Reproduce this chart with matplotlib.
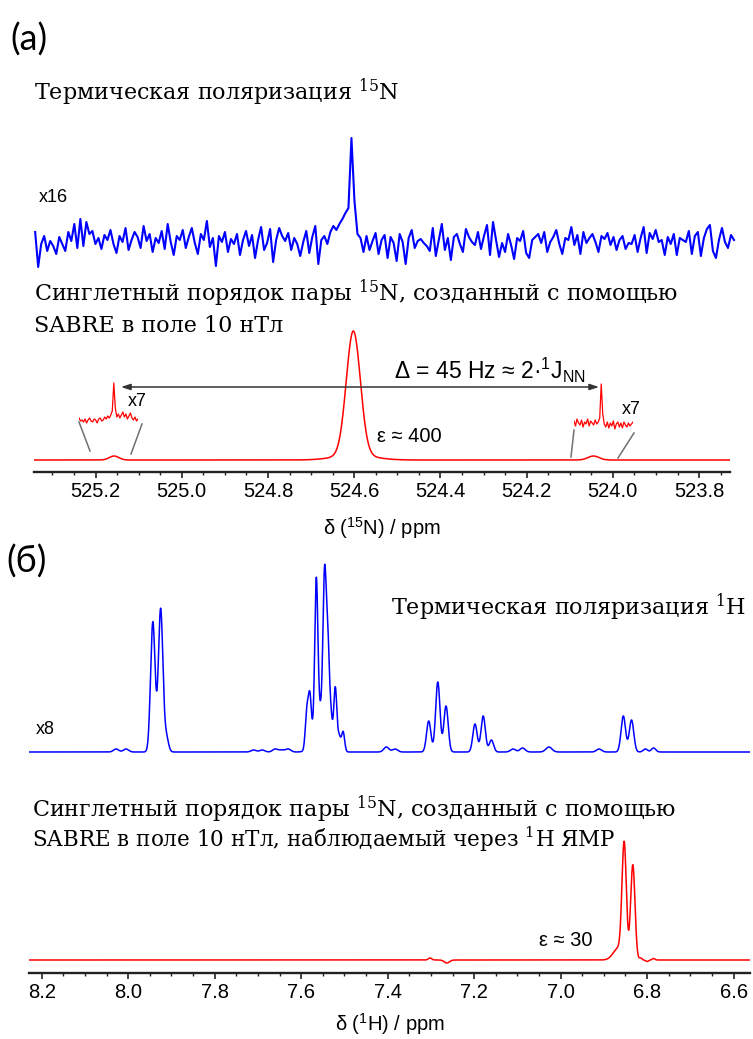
import numpy as np
import matplotlib
matplotlib.use('Agg')
import matplotlib.pyplot as plt
from matplotlib.lines import Line2D
from matplotlib.ticker import MultipleLocator, FormatStrFormatter

plt.rcParams['font.family'] = ['Liberation Sans', 'DejaVu Sans']
plt.rcParams['mathtext.fontset'] = 'custom'
plt.rcParams['mathtext.rm'] = 'DejaVu Serif'
plt.rcParams['mathtext.sf'] = 'Liberation Sans'
plt.rcParams['mathtext.it'] = 'Liberation Sans:italic'

W, H = 753, 1039
SERIF = ['DejaVu Serif']

# --- 15N thermal spectrum (x16), sampled trace, intensity above baseline
n15_thermal = [
    14, -21, 2, 10, -5, 5, 0, -8, 9, 2,
    -5, 14, 5, 22, -2, 27, 0, 24, 12, 15,
    2, 8, -3, 11, 6, 16, 2, -7, 10, 4,
    18, -4, 6, 14, 9, -2, 20, 5, 12, -6,
    8, 3, 15, -3, 22, 4, -9, 10, 6, 16,
    -2, 9, 18, 3, -8, 12, 6, 25, -1, 8,
    -20, 10, 4, 14, -6, 7, 2, 12, -9, 6,
    15, 0, 11, -12, 6, 19, -4, 3, 17, -16,
    6, 18, 10, 5, 13, -4, 8, 2, -10, 4,
    15, -7, 9, 20, -18, 6, 10, 2, 14, 20,
    16, 22, 27, 33, 38, 108, 45, 12, 8, -6,
    10, -4, 5, 13, -8, 6, 11, -12, 9, 3,
    -15, 12, 4, -18, 8, 16, -2, 5, 7, 3,
    0, -5, 18, -10, 6, 22, -4, 8, -14, 9,
    12, 2, -6, 17, 9, 4, 1, 14, -3, 10,
    21, -9, 24, 6, -11, 3, -6, 12, 1, -13,
    8, 5, 15, -7, -12, 6, 9, 12, 3, 14,
    -6, 4, 9, 16, 2, -8, 8, 6, 19, 1,
    11, -8, 14, 3, 8, 12, 4, -6, 10, 7,
    13, 1, 9, -4, 6, 10, -3, 3, 2, 11,
    -6, 8, 19, -7, 13, 7, 16, 4, 6, -9,
    9, 2, 12, -9, 8, 6, 4, 15, -8, 10,
    14, -10, 8, 17, 21, -5, -12, 6, 18, 4,
    -2, 11, 6,
]
n15_thermal_range = (525.340, 523.719)

# --- 15N singlet-order spectrum: peak table (ppm, height, gaussian sigma)
n15_sabre_pos = [524.602, 524.600, 525.157, 524.045]
n15_sabre_height = [124, 5, 4, 4]
n15_sabre_sigma = [0.0163, 0.045, 0.011, 0.013]

# x7 zoomed insets around the two outer lines
inset_left_vals = [2, -1, 0, -2, 1, -3, 0, 2, -1, -2, 1, 0, -3, 1, 2, -1, 0, 3, 1, 4,
                   2, 5, 9, 37, 12, 3, 6, 2, 5, 8, 3, 6, 1, 4, 7, 2, 0, 3, -1, 1]
inset_left_range = (525.213, 525.118)
inset_right_vals = [3, -2, 5, 1, -1, 4, -3, 2, 0, 5, -2, 3, 1, -1, 4, 0, 2, 6, 40, 10,
                    0, -3, 2, -4, 1, -2, 3, -5, 0, 2, -3, 1, -4, 2, -1, -3, 1, -2, 0, 2]
inset_right_range = (524.097, 523.988)

# --- 1H thermal spectrum (x8): line positions, heights, gaussian sigma
h1_thermal_pos = [8.028, 8.005, 7.943, 7.925, 7.912,
                  7.71, 7.69, 7.66, 7.645, 7.63,
                  7.587, 7.580, 7.565, 7.553, 7.546, 7.539, 7.532, 7.521, 7.512, 7.503,
                  7.403, 7.383, 7.305, 7.284, 7.265, 7.198, 7.179, 7.160,
                  7.110, 7.088, 7.027, 6.911, 6.855, 6.836, 6.804, 6.785]
h1_thermal_height = [3, 3, 130, 143, 15,
                     2, 2, 3, 2, 3,
                     36, 47, 142, 45, 134, 86, 25, 60, 14, 20,
                     5, 3, 31, 70, 46, 28, 36, 12,
                     3, 4, 5, 3, 36, 32, 3, 4]
h1_thermal_sigma = [0.006, 0.006, 0.0052, 0.0052, 0.005,
                    0.006, 0.006, 0.006, 0.006, 0.006,
                    0.0035, 0.0035, 0.0035, 0.015, 0.0035, 0.0035, 0.0035, 0.0035, 0.0035,
                    0.0035,
                    0.006, 0.006, 0.005, 0.005, 0.005, 0.005, 0.005, 0.005,
                    0.006, 0.006, 0.007, 0.006, 0.0052, 0.0052, 0.005, 0.005]

# --- 1H spectrum observed via singlet order
h1_sabre_pos = [7.302, 7.263, 6.866, 6.853, 6.833, 6.815, 6.800, 6.785]
h1_sabre_height = [2, -3, 12, 112, 95, 2, -1.5, 1.5]
h1_sabre_sigma = [0.004, 0.006, 0.012, 0.005, 0.005, 0.003, 0.003, 0.003]


def gauss(x, pos, height, sigma):
    y = np.zeros_like(x)
    for p, h, s in zip(pos, height, sigma):
        y += h * np.exp(-0.5 * ((x - p) / s) ** 2)
    return y


def fx(px):
    return px / W


def fy(py):
    return 1 - py / H


def style_axis(ax):
    for side in ('left', 'right', 'top'):
        ax.spines[side].set_visible(False)
    ax.spines['bottom'].set_linewidth(1.7)
    ax.spines['bottom'].set_color('#222222')
    ax.set_yticks([])
    ax.xaxis.set_major_locator(MultipleLocator(0.2))
    ax.xaxis.set_minor_locator(MultipleLocator(0.05))
    ax.xaxis.set_major_formatter(FormatStrFormatter('%.1f'))
    ax.tick_params(axis='x', which='major', length=4, width=1.2,
                   color='#222222', labelsize=14.5, pad=3)
    ax.tick_params(axis='x', which='minor', length=2.5, width=1.0,
                   color='#222222')
    ax.patch.set_visible(False)


fig = plt.figure(figsize=(W / 100, H / 100), dpi=100)

# ---------------- panel (a): 15N ----------------
ax_a = fig.add_axes([fx(34.3), fy(472), fx(729.7 - 34.3), (472 - 110) / H])
ax_a.set_xlim(525.342, 523.729)
ax_a.set_ylim(0, 362)
style_axis(ax_a)

x_th = np.linspace(*n15_thermal_range, len(n15_thermal))
ax_a.plot(x_th, 226 + np.array(n15_thermal), color='#0000ff', lw=1.5,
          clip_on=False)

x_a = np.linspace(525.342, 523.729, 2500)
ax_a.plot(x_a, 12 + gauss(x_a, n15_sabre_pos, n15_sabre_height, n15_sabre_sigma),
          color='#ff0000', lw=1.1)

ax_a.annotate('', xy=(524.032, 85), xytext=(525.141, 85),
              arrowprops=dict(arrowstyle='<|-|>,head_length=0.55,head_width=0.18',
                              color='#333333', lw=1.1, shrinkA=0, shrinkB=0))
ax_a.set_xlabel(r'δ ($^{\mathsf{15}}$N) / ppm', fontsize=14.5, labelpad=10)

for vals, rng, left, right, bottom in (
        (inset_left_vals, inset_left_range, 79, 138, 432),
        (inset_right_vals, inset_right_range, 574, 633, 436)):
    ax_in = fig.add_axes([fx(left), fy(bottom), fx(right - left), 60 / H])
    ax_in.set_xlim(*rng)
    ax_in.set_ylim(-12, 48)
    ax_in.axis('off')
    ax_in.plot(np.linspace(*rng, len(vals)), vals, color='#ff0000', lw=0.9)

for (x0, y0), (x1, y1) in (((79, 422), (90, 451)), ((142, 424), (131, 454)),
                           ((574, 430), (571, 457)), ((634, 433), (618, 458))):
    fig.add_artist(Line2D([fx(x0), fx(x1)], [fy(y0), fy(y1)],
                          transform=fig.transFigure, color='#707070', lw=1.1))

fig.text(fx(10), fy(40), '(a)', fontsize=26, va='center', family=['Lato', 'DejaVu Sans'])
fig.text(fx(34), fy(100), r'Термическая поляризация $^{\mathrm{15}}$N',
         fontsize=16, family=SERIF, va='baseline')
fig.text(fx(39), fy(197), 'x16', fontsize=13, va='center')
fig.text(fx(34), fy(301), r'Синглетный порядок пары $^{\mathrm{15}}$N, созданный с помощью',
         fontsize=16, family=SERIF, va='baseline')
fig.text(fx(34), fy(332), 'SABRE в поле 10 нТл', fontsize=16, family=SERIF,
         va='baseline')
fig.text(fx(490), fy(370), r'Δ = 45 Hz ≈ 2·$^{\mathsf{1}}\mathsf{J}_{\mathsf{NN}}$',
         fontsize=16.5, ha='center', va='center')
fig.text(fx(128), fy(401), 'x7', fontsize=13, va='center')
fig.text(fx(622), fy(409), 'x7', fontsize=13, va='center')
fig.text(fx(377), fy(436), 'ε ≈ 400', fontsize=14.5, va='center')

# ---------------- panel (b): 1H ----------------
ax_b = fig.add_axes([fx(29.3), fy(973), fx(750 - 29.3), (973 - 560) / H])
ax_b.set_xlim(8.2287, 6.562)
ax_b.set_ylim(0, 413)
style_axis(ax_b)

x_b = np.linspace(8.2287, 6.562, 5000)
ax_b.plot(x_b, 221 + gauss(x_b, h1_thermal_pos, h1_thermal_height, h1_thermal_sigma),
          color='#0000ff', lw=1.1)
ax_b.plot(x_b, 13 + gauss(x_b, h1_sabre_pos, h1_sabre_height, h1_sabre_sigma),
          color='#ff0000', lw=1.1)
ax_b.set_xlabel(r'δ ($^{\mathsf{1}}$H) / ppm', fontsize=14.5, labelpad=7)

fig.text(fx(6), fy(562), '(б)', fontsize=26, va='center', family=['Lato', 'DejaVu Sans'])
fig.text(fx(746), fy(615), r'Термическая поляризация $^{\mathrm{1}}$H',
         fontsize=16, family=SERIF, ha='right', va='baseline')
fig.text(fx(36), fy(730), 'x8', fontsize=13, va='center')
fig.text(fx(32), fy(817), r'Синглетный порядок пары $^{\mathrm{15}}$N, созданный с помощью',
         fontsize=16, family=SERIF, va='baseline')
fig.text(fx(32), fy(847), r'SABRE в поле 10 нТл, наблюдаемый через $^{\mathrm{1}}$H ЯМР',
         fontsize=15.5, family=SERIF, va='baseline')
fig.text(fx(539), fy(940), 'ε ≈ 30', fontsize=14.5, va='center')

fig.savefig('out.png', dpi=100)
